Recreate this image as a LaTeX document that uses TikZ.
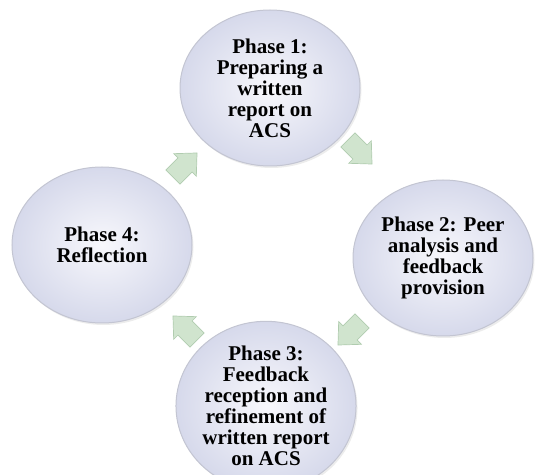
\documentclass[tikz,border=0pt]{standalone}
\usepackage{fontspec}
\setmainfont{Liberation Serif}
\usetikzlibrary{shapes.geometric,shadows}

\definecolor{discin}{HTML}{F8F8FC}
\definecolor{discout}{HTML}{D6D9EB}
\definecolor{discrim}{HTML}{C3C5D2}
\definecolor{arrowfill}{HTML}{D0E4CE}
\definecolor{arrowedge}{HTML}{B0CCAF}

\tikzset{
  phase/.style={ellipse, minimum width=180pt, minimum height=156pt, inner sep=0pt,
    shade, inner color=discin, outer color=discout, draw=discrim, line width=1pt,
    align=center, font=\fontsize{21}{21}\selectfont\bfseries,
    drop shadow={opacity=0.15, shadow xshift=1.5pt, shadow yshift=-2pt, fill=gray}},
  cyclearrow/.style={fill=arrowfill, draw=arrowedge, line width=0.7pt, line join=miter},
  % short block arrow pointing along +x, centred on the origin
  cycarrow/.pic={\path[cyclearrow] (-17,-10) -- (0,-10) -- (0,-16) -- (17,0) -- (0,16) -- (0,10) -- (-17,10) -- cycle;}
}

\begin{document}
\begin{tikzpicture}[x=1pt, y=1pt]
  \useasboundingbox (0,0) rectangle (538,474);
  \clip (0,0) rectangle (538,474);

  % the four phases, clockwise from the top
  \node[phase] (p1) at (270,386) {Phase 1:\\Preparing a\\written\\report on\\ACS};
  \node[phase] (p2) at (443,216) {Phase 2: Peer\\analysis and\\feedback\\provision};
  \node[phase] (p3) at (266,68)  {Phase 3:\\Feedback\\reception and\\refinement of\\written report\\on ACS};
  \node[phase] (p4) at (102,229) {Phase 4:\\Reflection};

  % cycle arrows between the phases
  \pic[rotate=-45]  at (360,322) {cycarrow};
  \pic[rotate=-135] at (350,141) {cycarrow};
  \pic[rotate=135]  at (185,146) {cycarrow};
  \pic[rotate=45]   at (185,309) {cycarrow};
\end{tikzpicture}
\end{document}
